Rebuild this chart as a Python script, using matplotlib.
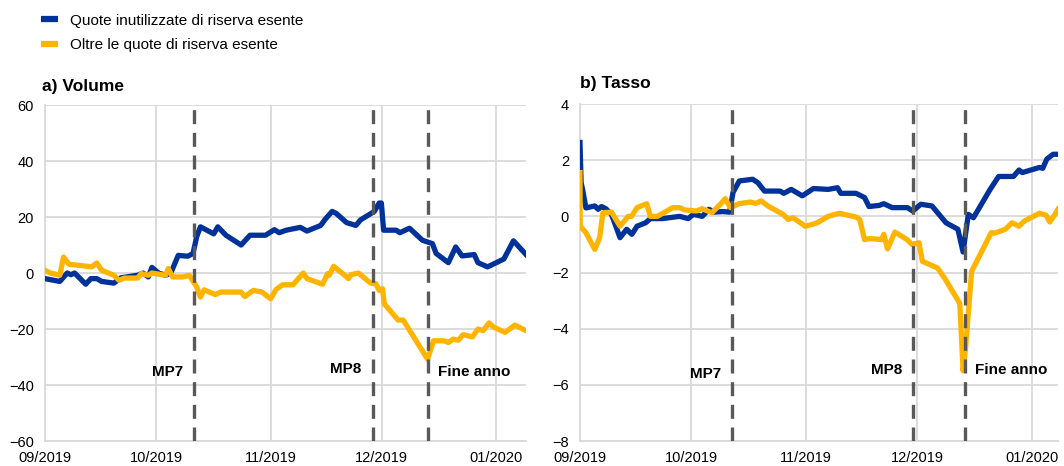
import numpy as np
import pandas as pd
import matplotlib
matplotlib.use("Agg")
import matplotlib.pyplot as plt
import matplotlib.dates as mdates
from matplotlib.lines import Line2D

plt.rcParams.update({
    "font.family": ["Liberation Sans", "DejaVu Sans"],
    "font.size": 10,
})

BLUE = "#003299"
YELLOW = "#FFB400"
GRID = "#d9d9d9"
DASH = "#595959"

START = pd.Timestamp("2019-09-01")

# --- a) Volume (days since 1 Sep 2019, values) -----------------------------
VOL_BLUE_D = [0, 4, 6, 7, 8, 11, 12.4, 14, 15.3, 18.6, 20.5, 25, 26.5, 27.9, 28.9,
              30.7, 32.6, 34, 36, 38.6, 40, 41, 42, 45.6, 46.7, 48.9, 53, 55.4,
              59.6, 62, 63.3, 65.2, 69, 70.8, 74.5, 75.9, 77.6, 78.7, 81.5, 84,
              85.3, 89, 90.3, 90.9, 91.5, 94.9, 95.9, 98.5, 102, 104.7, 105.7,
              109, 111, 112.7, 116, 117, 119.6, 124, 126.6, 130]
VOL_BLUE = [-2, -3, 0, -0.6, 0, -4, -2, -2, -3, -3.6, -1.7, -0.8, 0, -1.4, 2,
            0, -0.8, 0, 6.3, 6, 7, 13, 16.5, 14, 16.5, 13.5, 10, 13.5,
            13.5, 15.5, 14.4, 15.3, 16.3, 15, 17, 19.5, 22, 21.3, 18, 17,
            19, 22, 25, 25, 15.3, 15.3, 14.4, 16, 11.7, 10.5, 7,
            3.7, 9.3, 6.1, 6.6, 3.7, 2.2, 5, 11.5, 6.6]

VOL_YEL_D = [0, 1.4, 4, 5, 6.5, 8.8, 12.6, 14, 15.3, 18.6, 20, 21.4, 25, 26,
             27.9, 28.9, 32.6, 33.3, 34.5, 37.2, 39, 41, 42, 43, 46, 47.5,
             53, 54, 56.3, 58.6, 61, 62.4, 64.2, 67, 69.8, 70.8, 75, 76.4,
             76.8, 78, 81, 82, 82.7, 84.7, 88, 89.4, 90.3, 91.2, 91.7, 95.4,
             96.8, 103.4, 105, 107.8, 109, 110.3, 111.7, 113, 115.5, 117,
             118.4, 120, 121.1, 124.3, 127, 130]
VOL_YEL = [1, 0, -0.8, 5.7, 3.1, 2.8, 2.2, 3.6, 1, -0.8, -2.6, -1.8, -1.8, -0.2,
           -0.8, 0, -0.8, 1.6, -1.4, -1.4, -0.8, -5, -8.6, -6, -7.7, -6.8,
           -6.8, -8.4, -6.2, -6.8, -9.2, -5.9, -4.2, -4.2, 0, -2, -4, -0.2,
           -0.8, 2.4, -0.8, -2, -0.6, 0, -3.6, -3.8, -6.2, -5.6, -11, -16.8,
           -16.8, -30.8, -24.2, -24.2, -24.8, -23.6, -24, -22, -22.8, -20,
           -20.6, -17.8, -19.2, -21.2, -18.6, -20.6]

# --- b) Tasso ---------------------------------------------------------------
TAS_BLUE_D = [0, 0.3, 0.7, 1.6, 4, 4.9, 5.8, 7, 8.5, 10.8, 12.6, 14, 15.4,
              17.7, 19, 22.3, 26.9, 29.2, 30.6, 33, 34.8, 36.2, 38.5, 40.4,
              41.3, 43, 46.6, 48, 49.8, 54, 55, 57, 60, 63, 67, 69.5, 70.4,
              74.5, 76.8, 78, 80.8, 82, 84.3, 88.4, 89.8, 92, 95, 98.8, 102,
              103.4, 104.8, 106.2, 110.7, 113, 117, 118.5, 119.4, 124, 124.9,
              126, 127.7, 129]
TAS_BLUE = [2.63, 1.2, 0.96, 0.3, 0.37, 0.25, 0.35, 0.27, 0.07, -0.76, -0.46,
            -0.64, -0.35, -0.23, -0.08, -0.08, 0, -0.08, 0.07, 0, 0.25, 0.15,
            0.17, 0.15, 0.85, 1.26, 1.32, 1.2, 0.9, 0.9, 0.82, 0.96, 0.73,
            0.99, 0.96, 1.02, 0.82, 0.82, 0.67, 0.35, 0.39, 0.45, 0.31, 0.31,
            0.19, 0.43, 0.37, -0.23, -0.46, -1.27, 0.07, -0.05, 0.96, 1.42,
            1.42, 1.65, 1.56, 1.74, 1.71, 2.04, 2.21, 2.21]

TAS_YEL_D = [0, 0.05, 1.6, 4, 5.3, 6.2, 8.5, 10.8, 13, 13.9, 15.4, 18, 19,
             20.9, 25, 26.9, 28.2, 31.4, 33, 35.6, 37.9, 39.2, 40.6, 42.9,
             46, 47.4, 48.9, 50.7, 54.8, 56.2, 57.5, 60.8, 62.6, 64, 67, 70,
             72.3, 74.5, 75.5, 76.8, 78.2, 81.4, 82, 83, 85, 88.3, 89.6,
             91.5, 92.4, 96.5, 98.4, 102.5, 103, 103.4, 104.1, 105.7, 111,
             111.9, 114.8, 116.6, 118.5, 119.9, 124, 125.8, 126.8, 128.2, 129]
TAS_YEL = [1.56, -0.35, -0.58, -1.18, -0.76, 0.13, 0.15, -0.35, 0, 0, 0.31,
           0.45, 0, 0, 0.31, 0.31, 0.23, 0.19, 0.27, 0.13, 0.43, 0.63, 0.31,
           0.45, 0.51, 0.46, 0.55, 0.37, 0.07, -0.11, -0.05, -0.35, -0.29,
           -0.23, 0, 0.11, 0.04, -0.02, -0.11, -0.83, -0.79, -0.83, -0.64,
           -1.16, -0.56, -0.83, -1.0, -0.94, -1.6, -1.84, -2.2, -3.1, -4.4,
           -5.5, -4.65, -1.96, -0.58, -0.6, -0.46, -0.23, -0.35, -0.17, 0.11,
           0.04, -0.2, 0.07, 0.25]

# event lines (days since 1 Sep 2019) and label heights
EVENTS = ["MP7", "MP8", "Fine anno"]
VOL_EVENT_D = [40.3, 88.6, 103.6]
TAS_EVENT_D = [41, 90, 104]
VOL_LABEL_Y = [-35.4, -34.3, -35.4]
TAS_LABEL_Y = [-5.6, -5.48, -5.48]

VOL_TICKS = [-60, -40, -20, 0, 20, 40, 60]
TAS_TICKS = [-8, -6, -4, -2, 0, 2, 4]


def to_dates(days):
    return START + pd.to_timedelta(np.asarray(days, dtype=float), unit="D")


def panel(ax, title, bd, bv, yd, yv, ev_d, lab_y, ticks, end_day, pad, tx):
    ax.plot(to_dates(bd), bv, color=BLUE, lw=3.8, solid_joinstyle="round", zorder=3)
    ax.plot(to_dates(yd), yv, color=YELLOW, lw=3.8, solid_joinstyle="round", zorder=3)
    for name, d, ly in zip(EVENTS, ev_d, lab_y):
        x = to_dates([d])[0]
        ax.axvline(x, color=DASH, lw=2.4, dashes=(4.2, 2.6), zorder=4)
        if name == "Fine anno":
            ax.annotate(name, xy=(x, ly), xytext=(7, 0), textcoords="offset points",
                        ha="left", va="center", fontweight="bold", fontsize=11)
        else:
            ax.annotate(name, xy=(x, ly), xytext=(-8, 0), textcoords="offset points",
                        ha="right", va="center", fontweight="bold", fontsize=11)
    ax.set_xlim(START, to_dates([end_day])[0])
    ax.set_ylim(ticks[0], ticks[-1])
    ax.set_yticks(ticks)
    ax.xaxis.set_major_locator(mdates.MonthLocator())
    ax.xaxis.set_major_formatter(mdates.DateFormatter("%m/%Y"))
    ax.grid(True, color=GRID, lw=1.3, zorder=0)
    for s in ["top", "right"]:
        ax.spines[s].set_visible(False)
    for s in ["left", "bottom"]:
        ax.spines[s].set_color(GRID)
        ax.spines[s].set_linewidth(1.3)
    ax.tick_params(length=0, labelsize=10.5, colors="black")
    ax.tick_params(axis="y", pad=8)
    ax.tick_params(axis="x", pad=7)
    ax.set_axisbelow(True)
    ax.set_title(title, loc="left", fontweight="bold", fontsize=12.5, pad=pad, x=tx)


fig = plt.figure(figsize=(10.64, 4.66), dpi=100)
ax1 = fig.add_axes([0.0423, 0.0536, 0.4521, 0.7210])
ax2 = fig.add_axes([0.5451, 0.0536, 0.4492, 0.7232])

panel(ax1, "a) Volume", VOL_BLUE_D, VOL_BLUE, VOL_YEL_D, VOL_YEL,
      VOL_EVENT_D, VOL_LABEL_Y, VOL_TICKS, 130, 10.2, -0.007)
panel(ax2, "b) Tasso", TAS_BLUE_D, TAS_BLUE, TAS_YEL_D, TAS_YEL,
      TAS_EVENT_D, TAS_LABEL_Y, TAS_TICKS, 129, 11.5, 0.0)

handles = [
    Line2D([0], [0], color=BLUE, lw=4.5, solid_capstyle="butt",
           label="Quote inutilizzate di riserva esente"),
    Line2D([0], [0], color=YELLOW, lw=4.5, solid_capstyle="butt",
           label="Oltre le quote di riserva esente"),
]
fig.legend(handles=handles, loc="upper left", bbox_to_anchor=(0.039, 0.971),
           frameon=False, fontsize=11, handlelength=1.05, handletextpad=0.8,
           labelspacing=0.68, borderpad=0, borderaxespad=0)

fig.savefig("out.png", dpi=100)
